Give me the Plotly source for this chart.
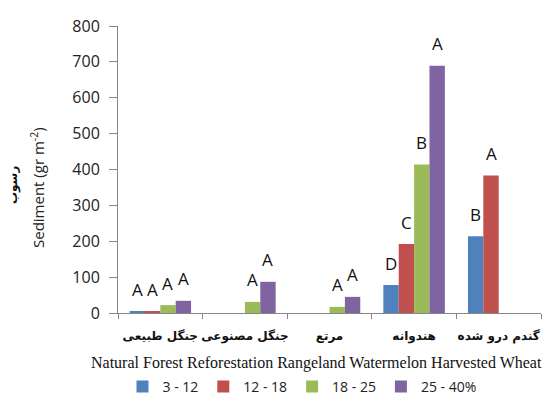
import plotly.graph_objects as go

# Land-use categories (Persian tick labels) and their English names
categories = ["جنگل طبیعی", "جنگل مصنوعی", "مرتع", "هندوانه", "گندم درو شده"]
english_names = "Natural Forest Reforestation Rangeland Watermelon Harvested Wheat"

# Slope classes
series_names = ["3 - 12", "12 - 18", "18 - 25", "25 - 40%"]
colors = ["#4F81BD", "#C0504D", "#9BBB59", "#8064A2"]

# Sediment (gr m^-2) per slope class; None where no bar is drawn
slope_3_12 = [3, None, None, 78, 214]
slope_12_18 = [3, None, None, 192, 383]
slope_18_25 = [22, 31, 17, 414, None]
slope_25_40 = [34, 87, 45, 689, None]
values = [slope_3_12, slope_12_18, slope_18_25, slope_25_40]

# Significance letters above each bar
letters_3_12 = ["A", "", "", "D", "B"]
letters_12_18 = ["A", "", "", "C", "A"]
letters_18_25 = ["A", "A", "A", "B", ""]
letters_25_40 = ["A", "A", "A", "A", ""]
letters = [letters_3_12, letters_12_18, letters_18_25, letters_25_40]

y_ticks = [0, 100, 200, 300, 400, 500, 600, 700, 800]

bargap = 1.5 / 5.5
n_series = len(series_names)
bar_w = (1 - bargap) / n_series

W, H = 551, 411
L, R, T, B = 118, 10, 26, 98
pw, ph = W - L - R, H - T - B

fig = go.Figure()
for name, color, vals in zip(series_names, colors, values):
    fig.add_trace(go.Bar(
        x=categories, y=vals, name=name,
        marker=dict(color=color, line=dict(width=0)),
    ))

annotations = []
for s, (vals, labs) in enumerate(zip(values, letters)):
    for c, (v, lab) in enumerate(zip(vals, labs)):
        if v is None or not lab:
            continue
        annotations.append(dict(
            x=c + (s - (n_series - 1) / 2) * bar_w, y=v,
            xref="x", yref="y", text=lab, showarrow=False,
            yanchor="middle", yshift=22,
            font=dict(family="Open Sans, Liberation Sans, sans-serif", size=17, color="#111"),
        ))


def px_to_paper(xp, yp):
    return (xp - L) / pw, (H - B - yp) / ph


# English category names line
ex, ey = px_to_paper(316, 363)
annotations.append(dict(
    x=ex, y=ey, xref="paper", yref="paper", text=english_names,
    showarrow=False, xanchor="center", yanchor="middle",
    font=dict(family="Liberation Serif, Times New Roman, serif", size=16, color="#111"),
))
# Y-axis titles (English and Persian)
tx, ty = px_to_paper(37, 188)
annotations.append(dict(
    x=tx, y=ty, xref="paper", yref="paper", text="Sediment (gr m<sup>-2</sup>)",
    showarrow=False, textangle=-90, xanchor="center", yanchor="middle",
    font=dict(family="Open Sans, Liberation Sans, sans-serif", size=15, color="#222"),
))
px_, py_ = px_to_paper(13, 185)
annotations.append(dict(
    x=px_, y=py_, xref="paper", yref="paper", text="<b>رسوب</b>",
    showarrow=False, textangle=-90, xanchor="center", yanchor="middle",
    font=dict(family="DejaVu Sans, sans-serif", size=12, color="#111"),
))

lx, ly = px_to_paper(302, 387)
fig.update_layout(
    width=W, height=H,
    margin=dict(l=L, r=R, t=T, b=B, pad=0, autoexpand=False),
    paper_bgcolor="white", plot_bgcolor="white",
    barmode="group", bargap=bargap, bargroupgap=0,
    annotations=annotations,
    showlegend=True,
    legend=dict(
        orientation="h", x=lx, xanchor="center", y=ly, yanchor="middle",
        font=dict(family="Open Sans, Liberation Sans, sans-serif", size=14, color="#222"),
        itemwidth=30, tracegroupgap=0,
    ),
    xaxis=dict(
        type="category", tickson="boundaries", tickangle=0, automargin=False,
        showline=True, linecolor="#868686", linewidth=1,
        ticks="outside", ticklen=5, tickcolor="#868686",
        ticklabelstandoff=12,
        tickvals=categories, ticktext=[f"<b>{c}</b>" for c in categories],
        tickfont=dict(family="DejaVu Sans, sans-serif", size=12, color="#111"),
        showgrid=False, zeroline=False,
    ),
    yaxis=dict(
        range=[0, 800], tickvals=y_ticks, automargin=False,
        showline=True, linecolor="#868686", linewidth=1,
        ticks="outside", ticklen=8, tickcolor="#868686",
        ticklabelstandoff=6,
        tickfont=dict(family="Open Sans, Liberation Sans, sans-serif", size=16, color="#222"),
        showgrid=False, zeroline=False,
    ),
)

fig.write_html("out.html")
